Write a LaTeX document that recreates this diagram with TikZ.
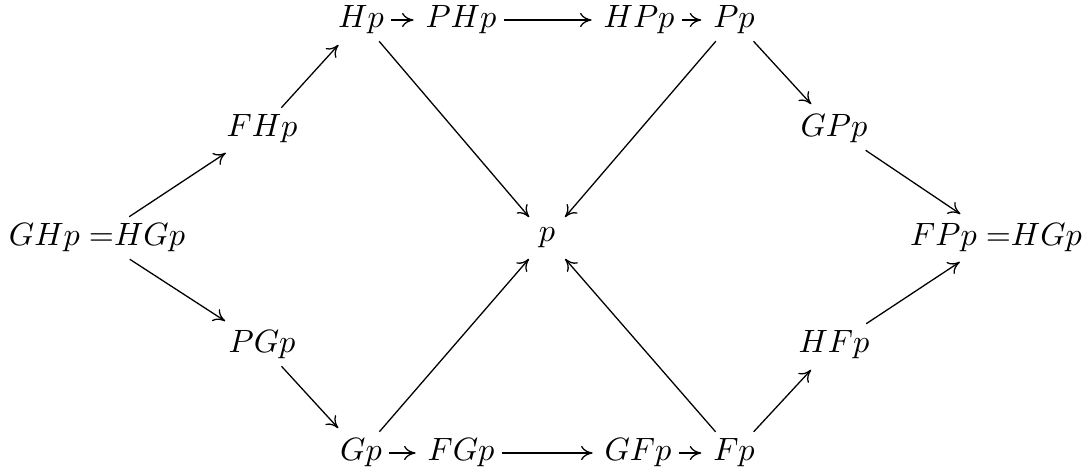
\documentclass[tikz,border=0pt]{standalone}
\usepackage{amsmath}
\usepackage{tikz}
\usetikzlibrary{arrows.meta,positioning,calc}

\begin{document}
\begin{tikzpicture}[
  x=0.31pt, y=-0.31pt,
  obj/.style={inner sep=2pt},
  arrow/.style={-{To[length=3.6pt,width=4.4pt]}, shorten >=1.5pt}
]
\useasboundingbox (0,0) rectangle (1090,473);
% left and right ends
\node[obj] (ghp) at (97,238) {$GHp\;{=}HGp$};
\node[obj] (fpp) at (996,238) {$FPp\;{=}HGp$};
\node[obj] (p) at (547,238) {$p$};
% upper half
\node[obj] (fhp) at (262,129) {$FHp$};
\node[obj] (hp) at (361,20) {$Hp$};
\node[obj] (php) at (461,20) {$PHp$};
\node[obj] (hpp) at (639,20) {$HPp$};
\node[obj] (pp) at (734,20) {$Pp$};
\node[obj] (gpp) at (834,129) {$GPp$};
% lower half
\node[obj] (pgp) at (262,345) {$PGp$};
\node[obj] (gp) at (361,453) {$Gp$};
\node[obj] (fgp) at (461,453) {$FGp$};
\node[obj] (gfp) at (638,453) {$GFp$};
\node[obj] (fp) at (734,453) {$Fp$};
\node[obj] (hfp) at (834,345) {$HFp$};

\draw[arrow] (ghp) -- (fhp);
\draw[arrow] (fhp) -- (hp);
\draw[arrow] (hp) -- (php);
\draw[arrow] (php) -- (hpp);
\draw[arrow] (hpp) -- (pp);
\draw[arrow] (pp) -- (gpp);
\draw[arrow] (gpp) -- (fpp);
\draw[arrow] (ghp) -- (pgp);
\draw[arrow] (pgp) -- (gp);
\draw[arrow] (gp) -- (fgp);
\draw[arrow] (fgp) -- (gfp);
\draw[arrow] (gfp) -- (fp);
\draw[arrow] (fp) -- (hfp);
\draw[arrow] (hfp) -- (fpp);
\draw[arrow] (hp) -- (p);
\draw[arrow] (pp) -- (p);
\draw[arrow] (gp) -- (p);
\draw[arrow] (fp) -- (p);
\end{tikzpicture}
\end{document}
